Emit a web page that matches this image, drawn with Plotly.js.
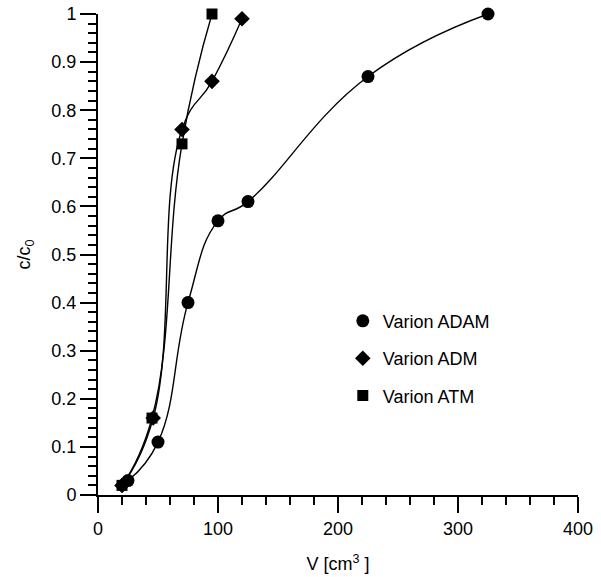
<!DOCTYPE html>
<html>
<head>
<meta charset="utf-8">
<script src="https://cdn.plot.ly/plotly-3.0.1.min.js"></script>
<style>html,body{margin:0;padding:0;background:#fff;}#chart{width:601px;height:577px;}</style>
</head>
<body>
<div id="chart"></div>
<script>
const adamV = [25, 50, 75, 100, 125, 225, 325];
const adamC = [0.03, 0.11, 0.40, 0.57, 0.61, 0.87, 1.00];
const admV = [20, 46, 70, 95, 120];
const admC = [0.02, 0.16, 0.76, 0.86, 0.99];
const atmV = [20, 45, 70, 95];
const atmC = [0.02, 0.16, 0.73, 1.00];
const names = ['Varion ADAM', 'Varion ADM', 'Varion ATM'];

const lineStyle = {color: '#000', width: 1.4, shape: 'spline', smoothing: 1.3};
function lineTrace(x, y) {
  return {x: x, y: y, type: 'scatter', mode: 'lines', line: lineStyle, cliponaxis: false,
          showlegend: false, hoverinfo: 'skip'};
}
function markTrace(x, y, name, symbol, size) {
  return {x: x, y: y, type: 'scatter', mode: 'markers', name: name, legendgroup: name,
          cliponaxis: false, marker: {symbol: symbol, size: size, color: '#000'}};
}
const data = [
  lineTrace(adamV, adamC), lineTrace(admV, admC), lineTrace(atmV, atmC),
  markTrace(adamV, adamC, names[0], 'circle', 13),
  markTrace(admV, admC, names[1], 'diamond', 12),
  markTrace(atmV, atmC, names[2], 'square', 11)
];

const font = {family: 'Liberation Sans, Arial, sans-serif', size: 18, color: '#000'};
const layout = {
  width: 601, height: 577,
  margin: {l: 98, r: 23, t: 14, b: 82},
  paper_bgcolor: '#fff', plot_bgcolor: '#fff',
  font: font,
  showlegend: true,
  legend: {x: 0.51, y: 0.40, xanchor: 'left', yanchor: 'top', bgcolor: 'rgba(0,0,0,0)',
           tracegroupgap: 11, font: font},
  xaxis: {
    range: [0, 400], dtick: 100, tick0: 0,
    showgrid: false, zeroline: false, showline: true, linecolor: '#000', linewidth: 2,
    ticks: 'outside', ticklen: 16, tickwidth: 2, tickcolor: '#000',
    minor: {dtick: 20, ticks: 'outside', ticklen: 8, tickwidth: 2, tickcolor: '#000', showgrid: false},
    title: {text: 'V [cm<sup>3</sup> ]', font: font, standoff: 20},
    tickfont: font
  },
  yaxis: {
    range: [0, 1], dtick: 0.1, tick0: 0,
    showgrid: false, zeroline: false, showline: true, linecolor: '#000', linewidth: 2,
    ticks: 'outside', ticklen: 16, tickwidth: 2, tickcolor: '#000',
    minor: {dtick: 0.02, ticks: 'outside', ticklen: 8, tickwidth: 2, tickcolor: '#000', showgrid: false},
    title: {text: 'c/c<sub>0</sub>', font: font, standoff: 16},
    tickfont: font
  }
};
Plotly.newPlot('chart', data, layout, {displayModeBar: false, staticPlot: true});
</script>
</body>
</html>
